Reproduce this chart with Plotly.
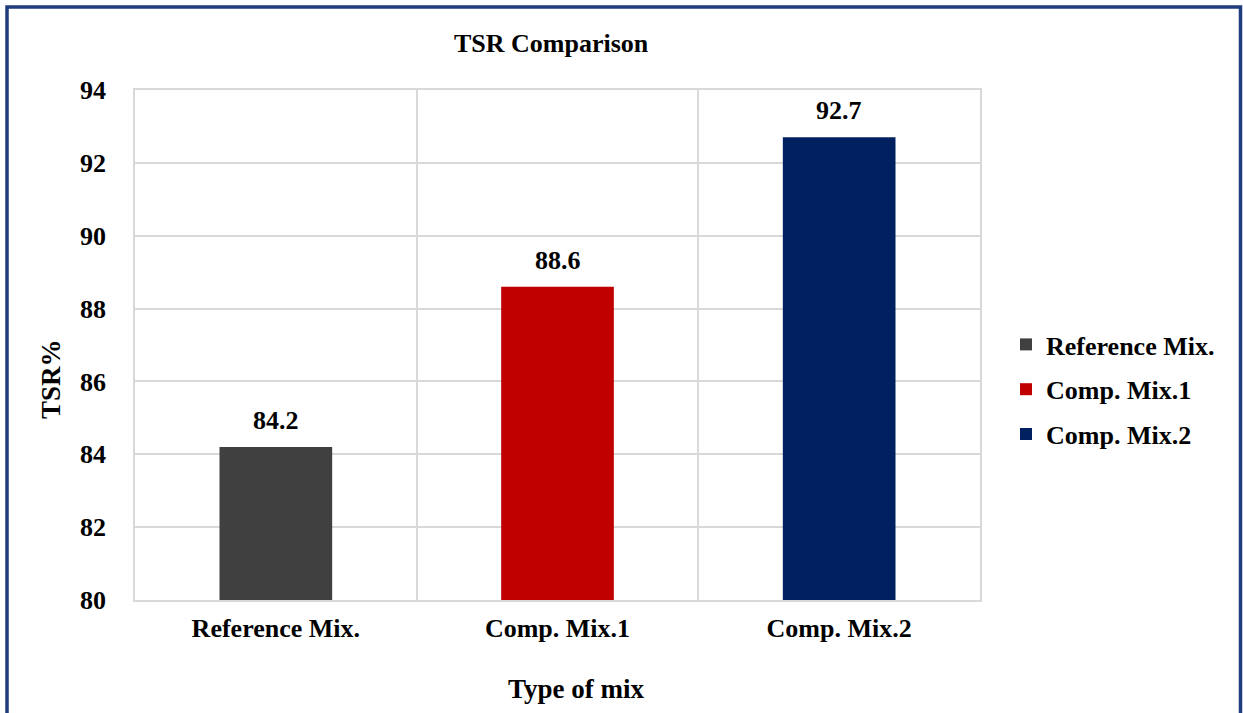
import plotly.graph_objects as go

# Data
mixes = ["Reference Mix.", "Comp. Mix.1", "Comp. Mix.2"]
tsr_values = [84.2, 88.6, 92.7]
bar_colors = ["#404040", "#C00000", "#002060"]
y_ticks = [80, 82, 84, 86, 88, 90, 92, 94]

FONT = "Liberation Serif, Times New Roman, serif"
FS = 26

# Plot-area geometry in pixels
L, R, T, B = 135, 263, 90, 113
W, H = 1243, 713
PW, PH = W - L - R, H - T - B


def px_x(px):
    return (px - L) / PW


def px_y(py):
    return (H - B - py) / PH


fig = go.Figure()
for name, val, col in zip(mixes, tsr_values, bar_colors):
    fig.add_trace(go.Bar(
        x=[name], y=[val], name=f"<b>{name}</b>", legendgroup=name,
        marker=dict(color=col, line=dict(width=0)),
        width=0.4,
    ))
    # value label above each bar
    fig.add_annotation(
        x=name, y=val, text=f"<b>{val:.1f}</b>", showarrow=False,
        yanchor="bottom", yshift=10,
        font=dict(family=FONT, size=FS, color="black"),
    )

fig.update_layout(
    width=W, height=H,
    margin=dict(l=L, r=R, t=T, b=B),
    paper_bgcolor="white", plot_bgcolor="white",
    font=dict(family=FONT, color="black"),
    showlegend=True,
    barmode="overlay",
    legend=dict(
        x=px_x(1006), y=px_y(389.5), xanchor="left", yanchor="middle",
        font=dict(family=FONT, size=FS, color="black"),
        itemwidth=30, tracegroupgap=8,
    ),
    xaxis=dict(
        categoryorder="array", categoryarray=mixes,
        tickvals=mixes, ticktext=[f"<b>{m}</b>" for m in mixes],
        tickson="boundaries", showgrid=True, gridcolor="#d9d9d9", gridwidth=1.5,
        showline=True, linecolor="#d9d9d9", linewidth=1.5, mirror=True,
        ticks="", tickfont=dict(family=FONT, size=FS, color="black"),
        ticklabelstandoff=4,
    ),
    yaxis=dict(
        range=[80, 94], tickvals=y_ticks,
        ticktext=[f"<b>{v}</b>" for v in y_ticks],
        showgrid=True, gridcolor="#d9d9d9", gridwidth=1.5,
        showline=True, linecolor="#d9d9d9", linewidth=1.5, mirror=True,
        ticks="", tickfont=dict(family=FONT, size=FS, color="black"),
        ticklabelstandoff=22,
    ),
)

# Chart title
fig.add_annotation(
    text="<b>TSR Comparison</b>", xref="paper", yref="paper",
    x=px_x(551), y=px_y(43), xanchor="center", yanchor="middle", showarrow=False,
    font=dict(family=FONT, size=FS, color="black"),
)
# Axis titles
fig.add_annotation(
    text="<b>Type of mix</b>", xref="paper", yref="paper",
    x=px_x(576), y=px_y(689), xanchor="center", yanchor="middle", showarrow=False,
    font=dict(family=FONT, size=27, color="black"),
)
fig.add_annotation(
    text="<b>TSR%</b>", xref="paper", yref="paper", textangle=-90,
    x=px_x(51), y=px_y(379), xanchor="center", yanchor="middle", showarrow=False,
    font=dict(family=FONT, size=27, color="black"),
)

# Outer frame around the chart
fig.add_shape(
    type="rect", xref="paper", yref="paper",
    x0=px_x(7), x1=px_x(1240.5), y0=px_y(760), y1=px_y(7),
    line=dict(color="#1F3C7E", width=3.5), fillcolor="rgba(0,0,0,0)",
    layer="above",
)

fig.write_html("out.html")
